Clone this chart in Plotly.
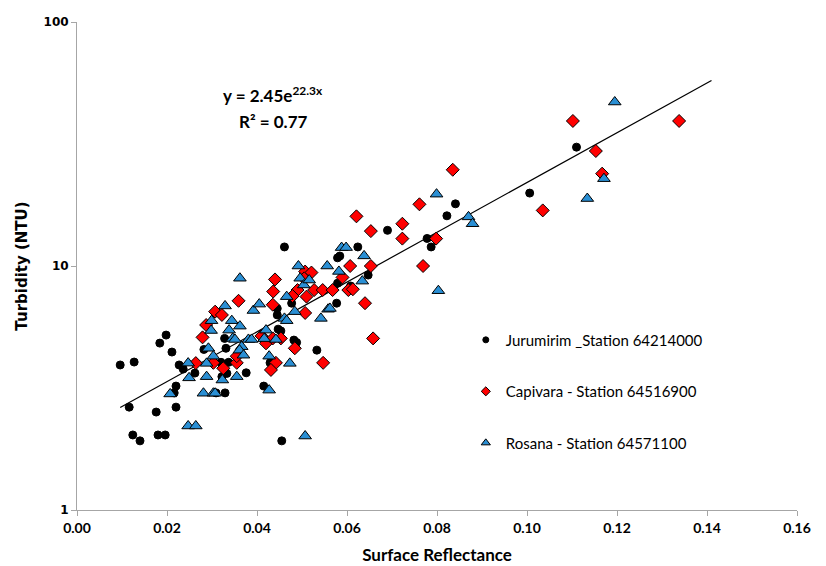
import math
import plotly.graph_objects as go

# Jurumirim _Station 64214000 (black circles)
jur_x = [0.0096, 0.0127, 0.0116, 0.0124, 0.0140, 0.0180, 0.0196, 0.0176, 0.0198, 0.0184,
         0.0211, 0.0220, 0.0216, 0.0220, 0.0227, 0.0236, 0.0262, 0.0461, 0.0328, 0.0282,
         0.0331, 0.0445, 0.0445, 0.0477, 0.0447, 0.0453, 0.0482, 0.0488, 0.0533, 0.0320,
         0.0337, 0.0322, 0.0333, 0.0376, 0.0429, 0.0415, 0.0329, 0.0309, 0.0455, 0.0624,
         0.0584, 0.0579, 0.0647, 0.0579, 0.0608, 0.0577, 0.0841, 0.0822, 0.0690, 0.0778,
         0.0787, 0.1110, 0.1006]
jur_y = [3.93, 4.04, 2.64, 2.03, 1.92, 2.03, 2.03, 2.52, 5.21, 4.83,
         4.44, 3.22, 3.02, 2.64, 3.93, 3.78, 3.64, 11.97, 5.05, 4.55,
         4.60, 6.70, 6.30, 7.04, 5.51, 5.42, 4.97, 4.86, 4.52, 4.03,
         4.03, 3.52, 3.63, 3.65, 4.01, 3.22, 3.02, 3.02, 1.92, 11.97,
         10.99, 10.8, 9.18, 8.5, 8.28, 7.04, 17.98, 16.06, 14.0, 12.97,
         11.97, 30.7, 19.9]

# Capivara - Station 64516900 (red diamonds)
cap_x = [0.0264, 0.0507, 0.0521, 0.0440, 0.0505, 0.0436, 0.0490, 0.0527, 0.0546, 0.0510,
         0.0479, 0.0359, 0.0435, 0.0307, 0.0322, 0.0287, 0.0507, 0.0279, 0.0410, 0.0420,
         0.0435, 0.0453, 0.0484, 0.0303, 0.0355, 0.0355, 0.0325, 0.0442, 0.0431, 0.0547,
         0.0621, 0.0653, 0.0607, 0.0653, 0.0568, 0.0603, 0.0613, 0.0590, 0.0640, 0.0658,
         0.0835, 0.0761, 0.0723, 0.0723, 0.0798, 0.0769, 0.1102, 0.1153, 0.1167, 0.1035,
         0.1338]
cap_y = [4.00, 9.49, 9.40, 8.81, 8.90, 7.86, 7.97, 7.97, 7.97, 7.49,
         7.53, 7.20, 6.94, 6.50, 6.30, 5.73, 6.42, 5.10, 5.17, 4.82,
         5.05, 5.05, 4.60, 4.01, 4.01, 4.27, 3.81, 4.01, 3.75, 4.01,
         15.98, 13.9, 10.0, 10.0, 7.97, 7.97, 8.03, 8.98, 7.04, 5.05,
         24.8, 17.9, 14.9, 12.95, 12.95, 10.0, 39.3, 29.6, 23.9, 16.9,
         39.3]

# Rosana - Station 64571100 (blue triangles)
ros_x = [0.0247, 0.0249, 0.0207, 0.0247, 0.0264, 0.0362, 0.0492, 0.0556, 0.0496, 0.0504,
         0.0516, 0.0466, 0.0484, 0.0542, 0.0558, 0.0329, 0.0392, 0.0405, 0.0299, 0.0298,
         0.0344, 0.0362, 0.0338, 0.0346, 0.0351, 0.0381, 0.0388, 0.0420, 0.0416, 0.0442,
         0.0366, 0.0361, 0.0292, 0.0370, 0.0303, 0.0427, 0.0288, 0.0473, 0.0288, 0.0355,
         0.0323, 0.0281, 0.0303, 0.0307, 0.0427, 0.0507, 0.0588, 0.0598, 0.0638, 0.0582,
         0.0634, 0.0562, 0.0461, 0.0466, 0.0799, 0.0870, 0.0879, 0.0803, 0.1195, 0.1171,
         0.1134]
ros_y = [4.00, 3.48, 2.99, 2.21, 2.21, 8.91, 10.0, 10.0, 8.91, 8.36,
         8.76, 7.49, 6.50, 6.10, 6.65, 6.86, 6.57, 6.98, 5.97, 5.44,
         5.97, 5.67, 5.46, 5.05, 5.00, 5.00, 5.00, 5.46, 5.04, 5.00,
         4.67, 4.52, 4.60, 4.31, 4.27, 4.27, 3.99, 3.99, 3.52, 3.52,
         3.41, 3.01, 3.01, 3.01, 3.10, 2.01, 11.9, 11.9, 11.0, 9.5,
         8.67, 6.70, 6.10, 5.97, 19.7, 15.9, 14.9, 7.92, 47.0, 22.8,
         18.9]

# Exponential trendline endpoints (as drawn in the chart)
trend_x = [0.0096, 0.1410]
trend_y = [2.63, 57.6]

x_ticks = [0.00, 0.02, 0.04, 0.06, 0.08, 0.10, 0.12, 0.14, 0.16]
y_ticks = [1, 10, 100]

names = ["Jurumirim _Station 64214000", "Capivara - Station 64516900",
         "Rosana - Station 64571100"]

fig = go.Figure()

fig.add_trace(go.Scatter(
    x=trend_x, y=trend_y, mode="lines",
    line=dict(color="black", width=1.2), showlegend=False, hoverinfo="skip"))

styles = [
    dict(symbol="circle", size=8, color="black", line=dict(color="black", width=1)),
    dict(symbol="diamond", size=10, color="#FF0000", line=dict(color="black", width=1)),
    dict(symbol="triangle-up", size=11, color="#2A8FD4", line=dict(color="black", width=1)),
]
legend_styles = [
    dict(symbol="circle", size=6, color="black", line=dict(color="black", width=1)),
    dict(symbol="diamond", size=7, color="#FF0000", line=dict(color="black", width=1)),
    dict(symbol="triangle-up", size=8, color="#2A8FD4", line=dict(color="black", width=1)),
]
series = [(jur_x, jur_y), (cap_x, cap_y), (ros_x, ros_y)]

for i, ((sx, sy), nm) in enumerate(zip(series, names)):
    fig.add_trace(go.Scatter(
        x=sx, y=sy, mode="markers", name=nm, legendgroup=nm, showlegend=False,
        marker=styles[i]))
for i, nm in enumerate(names):
    fig.add_trace(go.Scatter(
        x=[None], y=[None], mode="markers", name=nm, legendgroup=nm,
        showlegend=True, marker=legend_styles[i]))

fig.add_annotation(
    x=0.0435, y=math.log10(50.5), xref="x", yref="y",
    text="<b>y = 2.45e<sup>22.3x</sup></b>", showarrow=False,
    font=dict(family="Lato, Open Sans, sans-serif", size=17, color="black"))
fig.add_annotation(
    x=0.0435, y=math.log10(39.0), xref="x", yref="y",
    text="<b>R² = 0.77</b>", showarrow=False,
    font=dict(family="Lato, Open Sans, sans-serif", size=17, color="black"))

fig.update_layout(
    width=826, height=566,
    margin=dict(l=77, r=29, t=22, b=56, autoexpand=False),
    paper_bgcolor="white", plot_bgcolor="white",
    font=dict(family="Lato, Open Sans, sans-serif", color="black"),
    legend=dict(
        x=0.540, y=0.382, xanchor="left", yanchor="top",
        bgcolor="rgba(0,0,0,0)", tracegroupgap=29,
        traceorder="grouped", itemsizing="trace",
        font=dict(family="Lato, Open Sans, sans-serif", size=15, color="black")),
    xaxis=dict(
        range=[0, 0.16], tickvals=x_ticks, ticktext=["%.2f" % v for v in x_ticks],
        showgrid=False, zeroline=False, showline=True, linecolor="#A6A6A6",
        linewidth=1, ticks="outside", ticklen=5, tickcolor="#A6A6A6", automargin=False,
        tickfont=dict(family="Lato, sans-serif", size=14, color="black", weight="bold"),
        title=dict(text="<b>Surface Reflectance</b>", standoff=14,
                   font=dict(family="Lato, sans-serif", size=17, color="black"))),
    yaxis=dict(
        type="log", range=[0, 2], tickvals=y_ticks, ticktext=[str(v) for v in y_ticks],
        showgrid=False, zeroline=False, showline=True, linecolor="#A6A6A6",
        linewidth=1, ticks="outside", ticklen=5, tickcolor="#A6A6A6", automargin=False,
        tickfont=dict(family="DejaVu Sans, sans-serif", size=12, color="black", weight="bold"),
        title=dict(text="<b>Turbidity (NTU)</b>", standoff=12,
                   font=dict(family="DejaVu Sans, sans-serif", size=15, color="black"))),
)

fig.write_html("out.html")
